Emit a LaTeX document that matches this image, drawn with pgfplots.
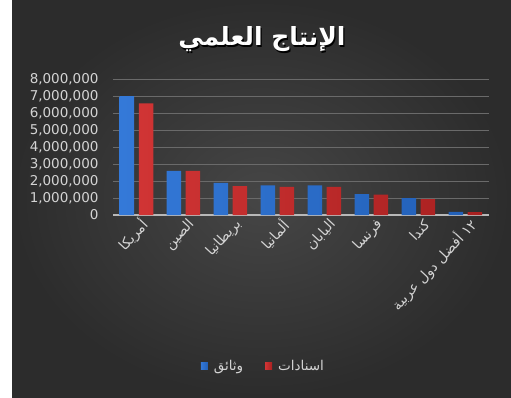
\documentclass[border=0pt]{standalone}
\usepackage{pgfplots}
\pgfplotsset{compat=1.18}
\usepackage{fontspec}
\setmainfont{DejaVu Sans}
\newfontfamily\arabicfont[Script=Arabic]{DejaVu Sans}
\TeXXeTstate=1
\newcommand{\AR}[1]{{\arabicfont\beginR #1\endR}}
\definecolor{bgin}{HTML}{464646}
\definecolor{bgout}{HTML}{2C2C2C}
\definecolor{textc}{HTML}{D4D4D4}
\definecolor{gridc}{HTML}{6A6A6A}
\definecolor{axisc}{HTML}{B8B8B8}
\definecolor{bL}{HTML}{3479D8}
\definecolor{bM}{HTML}{5AA0F5}
\definecolor{bR}{HTML}{2260B8}
\definecolor{rL}{HTML}{D03434}
\definecolor{rM}{HTML}{F05050}
\definecolor{rR}{HTML}{A82020}
\begin{document}
\begin{tikzpicture}[x=1pt,y=1pt]
\fill[white] (0pt,0pt) rectangle (511pt,397pt);
\shade[inner color=bgin, outer color=bgout] (12pt,0pt) rectangle (511pt,397pt);
\useasboundingbox (0pt,0pt) rectangle (511pt,397pt);
\node[text=black, font=\bfseries\fontsize{25}{28}\selectfont] at (263.2pt,356.3pt) {\AR{الإنتاج العلمي}};
\node[text=white, font=\bfseries\fontsize{25}{28}\selectfont] at (262pt,357.5pt) {\AR{الإنتاج العلمي}};
\begin{axis}[
  at={(113pt,182pt)}, anchor=south west, scale only axis,
  width=376pt, height=136pt,
  ymin=0, ymax=8000000, xmin=-0.5, xmax=7.5,
  ytick={0,1000000,2000000,3000000,4000000,5000000,6000000,7000000,8000000},
  scaled y ticks=false,
  /pgf/number format/fixed,
  /pgf/number format/1000 sep={,},
  /pgf/number format/assume math mode=true,
  yticklabel style={text=textc, font=\fontsize{13.5}{14}\selectfont, xshift=-11pt},
  xtick={0,...,7},
  xticklabels={\AR{أمريكا}, \AR{الصين}, \AR{بريطانيا}, \AR{ألمانيا}, \AR{اليابان}, \AR{فرنسا}, \AR{كندا}, {\arabicfont\beginR\beginL ١٢\endL{} أفضل دول عربية\endR}},
  xticklabel style={rotate=47, anchor=east, text=textc, font=\fontsize{14}{16}\selectfont, yshift=-11pt, xshift=4pt},
  major tick length=0pt,
  axis lines*=left,
  y axis line style={draw=none},
  x axis line style={draw=axisc, line width=1.2pt, -},
  ymajorgrids, grid style={draw=gridc, line width=0.7pt},
  ybar, bar width=14.5pt,
  legend columns=2,
  legend style={at={(0.40,-1.11)}, anchor=center, draw=none, fill=none, text=textc,
    font=\fontsize{13.5}{15}\selectfont,
    /tikz/every odd column/.append style={column sep=4pt},
    /tikz/every even column/.append style={column sep=20pt}},
  legend image code/.code={\fill[#1] (0pt,-3.5pt) rectangle (7pt,3.5pt);},
]
\addplot[bar shift=-9.5pt, draw=none, left color=bL, middle color=bM, right color=bR]
 coordinates {(0,7000000) (1,2590000) (2,1890000) (3,1740000) (4,1740000) (5,1230000) (6,1000000) (7,190000)};
\addlegendentry{\AR{وثائق}}
\addplot[bar shift=9.5pt, draw=none, left color=rL, middle color=rM, right color=rR]
 coordinates {(0,6570000) (1,2600000) (2,1700000) (3,1660000) (4,1650000) (5,1200000) (6,930000) (7,170000)};
\addlegendentry{\AR{اسنادات}}
\end{axis}
\end{tikzpicture}
\end{document}
